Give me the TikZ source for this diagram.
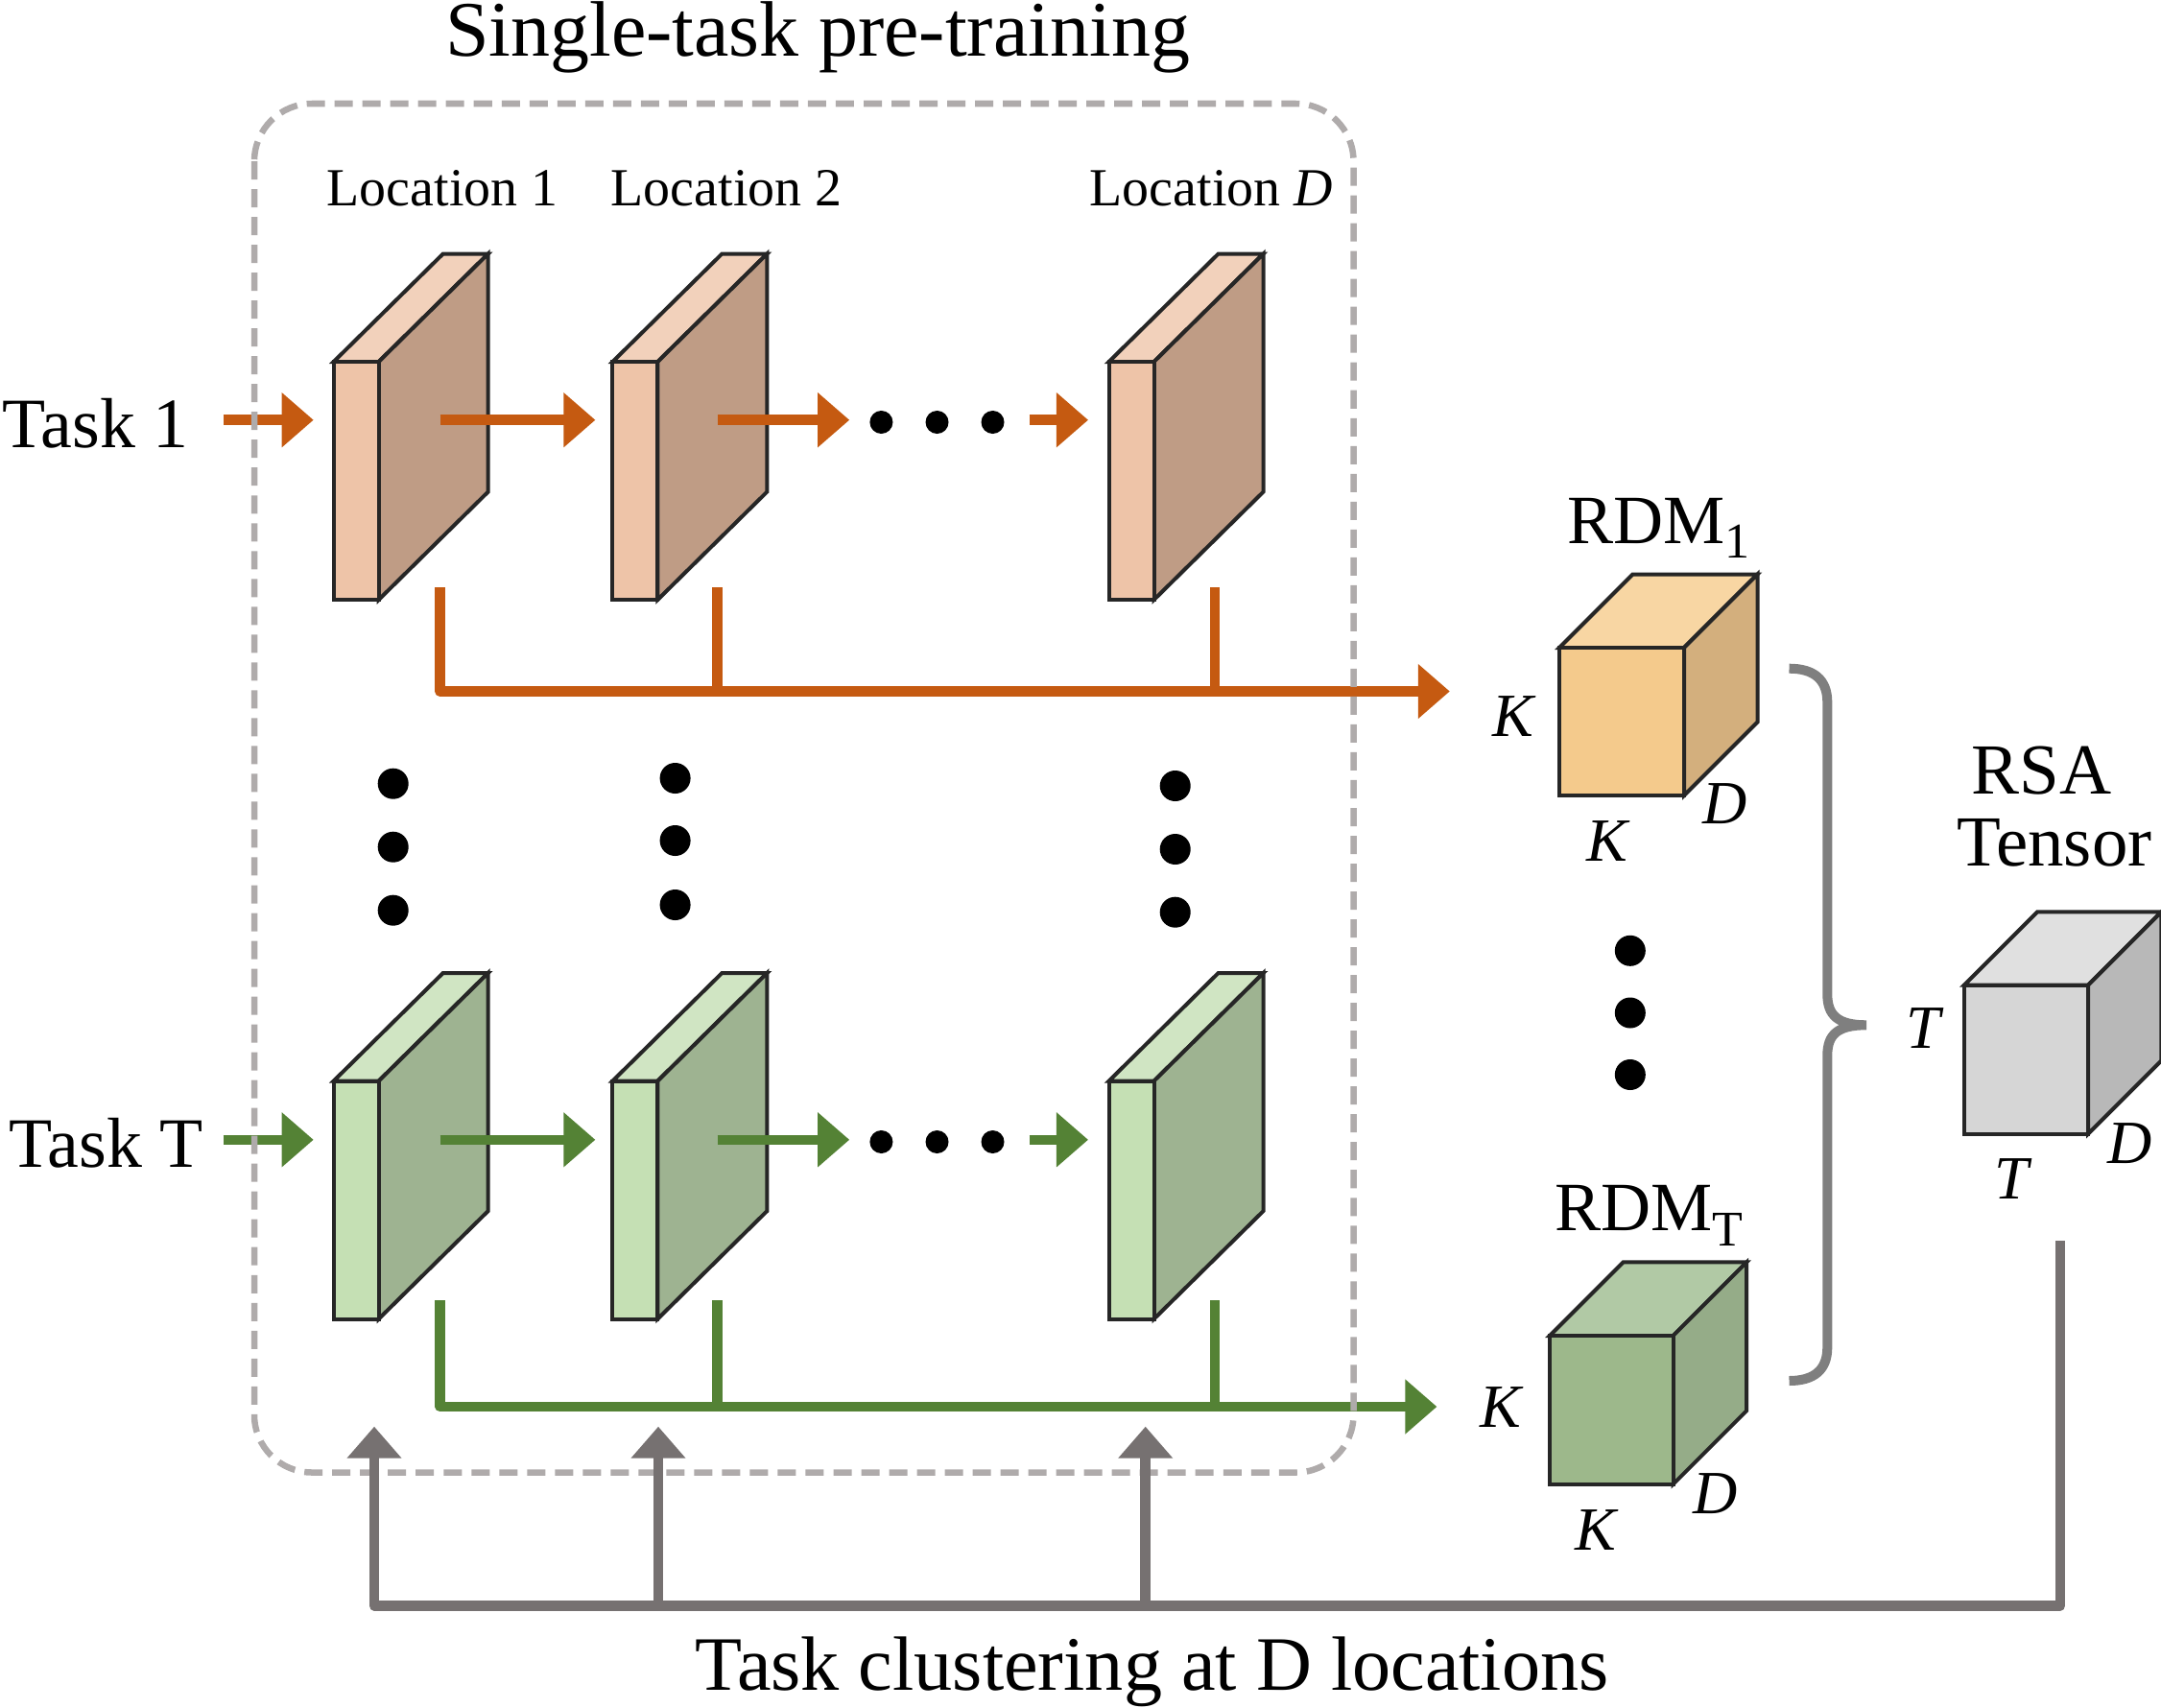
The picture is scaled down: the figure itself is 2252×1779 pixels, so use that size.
\documentclass[tikz,border=0pt]{standalone}
\usepackage{fontspec}
\setmainfont{Liberation Serif}
\usetikzlibrary{arrows.meta}
\definecolor{corange}{HTML}{C55A11}
\definecolor{cgreen}{HTML}{548235}
\definecolor{cgray}{HTML}{767171}
\definecolor{cbrace}{HTML}{7F7F7F}
\definecolor{cdash}{HTML}{AFABAB}
\definecolor{cline}{HTML}{262626}
\definecolor{ofront}{HTML}{EEC4A8}
\definecolor{otop}{HTML}{F2D1BB}
\definecolor{oside}{HTML}{BF9C85}
\definecolor{gfront}{HTML}{C5E0B4}
\definecolor{gtop}{HTML}{D0E5C3}
\definecolor{gside}{HTML}{9EB391}
\definecolor{rofront}{HTML}{F4CA8C}
\definecolor{rotop}{HTML}{F8D6A3}
\definecolor{roside}{HTML}{D3AF7D}
\definecolor{rgfront}{HTML}{9DB88B}
\definecolor{rgtop}{HTML}{B1C9A5}
\definecolor{rgside}{HTML}{95AC88}
\definecolor{kfront}{HTML}{D6D6D6}
\definecolor{ktop}{HTML}{E0E0E0}
\definecolor{kside}{HTML}{B8B8B8}
\newcommand\slabshape[5]{%
  \filldraw[shapeline, fill=#4] (#1,#2) -- ++(114,-112.5) -- ++(47,0) -- ++(-114,112.5) -- cycle;
  \filldraw[shapeline, fill=#5] (#1+47,#2) -- ++(114,-112.5) -- ++(0,248) -- ++(-114,112.5) -- cycle;
  \filldraw[shapeline, fill=#3] (#1,#2) rectangle ++(47,248);
}
\newcommand\cubeshape[8]{% x y w h d front top side
  \filldraw[shapeline, fill=#7] (#1,#2) -- ++(#5,-#5) -- ++(#3,0) -- ++(-#5,#5) -- cycle;
  \filldraw[shapeline, fill=#8] (#1+#3,#2) -- ++(#5,-#5) -- ++(0,#4) -- ++(-#5,#5) -- cycle;
  \filldraw[shapeline, fill=#6] (#1,#2) rectangle ++(#3,#4);
}
\begin{document}
\begin{tikzpicture}[x=0.01cm,y=-0.01cm,
  shapeline/.style={draw=cline, line width=0.04cm},
  tip/.style={-{Triangle[length=0.33cm,width=0.55cm]}},
  oline/.style={draw=corange, line width=0.105cm},
  gline/.style={draw=cgreen, line width=0.105cm},
  kline/.style={draw=cgray, line width=0.105cm},
  lbl/.style={inner sep=0pt, font=\fontsize{15.9}{18}\selectfont},
  dimlbl/.style={inner sep=0pt, font=\fontsize{18.2}{20}\selectfont\itshape},
  biglbl/.style={inner sep=0pt, font=\fontsize{20.5}{24}\selectfont},
  dotsm/.style={fill=black},
]
\useasboundingbox (0,0) rectangle (2252,1779);

% slabs
\slabshape{347.7}{377}{ofront}{otop}{oside}
\slabshape{638.4}{377}{ofront}{otop}{oside}
\slabshape{1155.6}{377}{ofront}{otop}{oside}
\slabshape{347.7}{1126.5}{gfront}{gtop}{gside}
\slabshape{638.4}{1126.5}{gfront}{gtop}{gside}
\slabshape{1155.6}{1126.5}{gfront}{gtop}{gside}

% cubes
\cubeshape{1625}{675}{130}{154}{76.5}{rofront}{rotop}{roside}
\cubeshape{1615}{1392}{128.6}{154.7}{76.6}{rgfront}{rgtop}{rgside}
\cubeshape{2046.7}{1026.7}{129.3}{155}{76.3}{kfront}{ktop}{kside}

% coordinates
\coordinate (in1a) at (232.5,437.7);  \coordinate (in1b) at (326.7,437.7);
\coordinate (o12a) at (458.6,437.7);  \coordinate (o12b) at (620.4,437.7);
\coordinate (o2da) at (747.5,437.7);  \coordinate (o2db) at (885.2,437.7);
\coordinate (oDa) at (1072.6,437.7);  \coordinate (oDb) at (1134,437.7);
\coordinate (inTa) at (232.5,1187.8); \coordinate (inTb) at (326.7,1187.8);
\coordinate (g12a) at (458.6,1187.8); \coordinate (g12b) at (620.4,1187.8);
\coordinate (g2da) at (747.5,1187.8); \coordinate (g2db) at (885.2,1187.8);
\coordinate (gDa) at (1072.6,1187.8); \coordinate (gDb) at (1134,1187.8);
\coordinate (ot1) at (458.6,612); \coordinate (ot2) at (747.5,612); \coordinate (ot3) at (1265.8,612);
\coordinate (obus) at (458.6,720.5); \coordinate (oend) at (1510.8,720.5);
\coordinate (gt1) at (458.6,1355); \coordinate (gt2) at (747.5,1355); \coordinate (gt3) at (1265.8,1355);
\coordinate (gbus) at (458.6,1466); \coordinate (gend) at (1497.4,1466);

% task arrows
\draw[oline,tip] (in1a) -- (in1b);
\draw[oline,tip] (o12a) -- (o12b);
\draw[oline,tip] (o2da) -- (o2db);
\draw[oline,tip] (oDa) -- (oDb);
\draw[gline,tip] (inTa) -- (inTb);
\draw[gline,tip] (g12a) -- (g12b);
\draw[gline,tip] (g2da) -- (g2db);
\draw[gline,tip] (gDa) -- (gDb);

% horizontal dots
\foreach \x in {918.4,976.5,1034.5} {
  \fill[dotsm] (\x,440) circle[radius=0.12cm];
  \fill[dotsm] (\x,1190) circle[radius=0.12cm];
}
% vertical dots
\foreach \y in {816.7,882.7,948.7} \fill[dotsm] (409.7,\y) circle[radius=0.16cm];
\foreach \y in {811,876,943} \fill[dotsm] (703.6,\y) circle[radius=0.16cm];
\foreach \y in {819,885,950.7} \fill[dotsm] (1224.7,\y) circle[radius=0.16cm];
\foreach \y in {990.8,1055.5,1120} \fill[dotsm] (1698.8,\y) circle[radius=0.16cm];

% buses
\draw[oline,tip,line join=round] (ot1) -- (obus) -- (oend);
\draw[oline] (ot2) -- (ot2 |- obus);
\draw[oline] (ot3) -- (ot3 |- obus);
\draw[gline,tip,line join=round] (gt1) -- (gbus) -- (gend);
\draw[gline] (gt2) -- (gt2 |- gbus);
\draw[gline] (gt3) -- (gt3 |- gbus);

% dashed box
\draw[draw=cdash, line width=0.065cm, dash pattern=on 0.19cm off 0.1cm, rounded corners=0.6cm]
  (265,108) rectangle (1410.5,1534.5);

% gray feedback
\coordinate (ks) at (2147,1293);
\coordinate (kc) at (2147,1673.3);
\coordinate (k1) at (390,1673.3);
\coordinate (k2) at (686,1673.3);
\coordinate (k3) at (1193.7,1673.3);
\draw[kline,tip,line join=round] (ks) -- (kc) -- (k1) -- ++(0,-186.6);
\draw[kline,tip] (k2) -- ++(0,-186.6);
\draw[kline,tip] (k3) -- ++(0,-186.6);

% brace
\draw[draw=cbrace, line width=0.1cm]
  (1864.5,696.7) .. controls (1890,696.7) and (1904.3,708) .. (1904.3,732)
  -- (1904.3,1036) .. controls (1904.3,1058) and (1915,1068.3) .. (1945,1068.3)
  .. controls (1915,1068.3) and (1904.3,1078) .. (1904.3,1100)
  -- (1904.3,1404) .. controls (1904.3,1428) and (1890,1439) .. (1864.5,1439);

% texts
\node[inner sep=0pt, anchor=base, font=\fontsize{23.3}{26}\selectfont] (title) at (852,59) {Single-task pre-training};
\node[lbl, anchor=base west] (loc1) at (340,214.3) {Location 1};
\node[lbl, anchor=base west] (loc2) at (636,214.3) {Location 2};
\node[lbl, anchor=base west] (locD) at (1135,214.3) {Location \textit{D}};
\node[inner sep=0pt, anchor=base west, font=\fontsize{21}{24}\selectfont] (task1) at (2,466) {Task 1};
\node[inner sep=0pt, anchor=base west, font=\fontsize{21}{24}\selectfont] (taskT) at (9,1216) {Task T};
\node[biglbl, anchor=base west] (rdm1) at (1633,566) {RDM\raisebox{-0.22em}{\fontsize{14.8}{16}\selectfont 1}};
\node[biglbl, anchor=base west] (rdmT) at (1620,1282.4) {RDM\raisebox{-0.22em}{\fontsize{14.8}{16}\selectfont T}};
\node[inner sep=0pt, anchor=base, font=\fontsize{21.3}{24}\selectfont] (rsa) at (2127.5,827.3) {RSA};
\node[inner sep=0pt, anchor=base, font=\fontsize{21.3}{24}\selectfont] (tensor) at (2141,902.3) {Tensor};
\node[dimlbl] (k1l) at (1576.7,746.7) {K};
\node[dimlbl] (k1b) at (1675,876.7) {K};
\node[dimlbl] (d1) at (1798,838) {D};
\node[dimlbl] (kTl) at (1563.8,1466.5) {K};
\node[dimlbl] (kTb) at (1663,1594.4) {K};
\node[dimlbl] (dT) at (1787.8,1556.2) {D};
\node[dimlbl] (tl) at (2004,1071.7) {T};
\node[dimlbl] (tb) at (2096.7,1228.3) {T};
\node[dimlbl] (dR) at (2220,1191.7) {D};
\node[inner sep=0pt, anchor=base, font=\fontsize{22.8}{26}\selectfont] (bottom) at (1200.5,1761.7) {Task clustering at D locations};
\end{tikzpicture}
\end{document}
